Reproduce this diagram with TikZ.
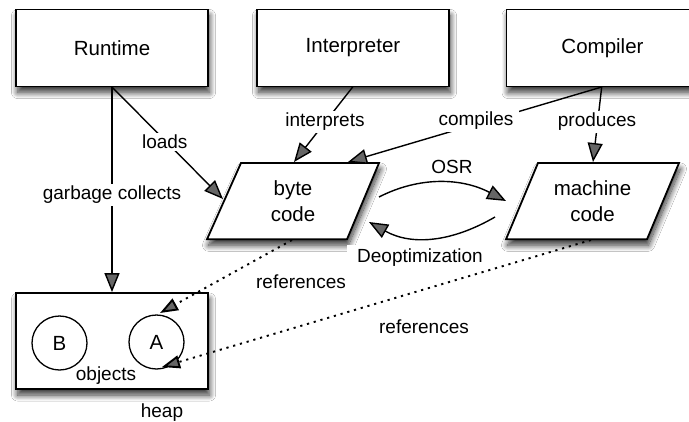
\documentclass[tikz,border=0pt]{standalone}
\usepackage{fontspec}
\setmainfont{Liberation Sans}
\usetikzlibrary{arrows.meta,shadows.blur,shapes.geometric}
\begin{document}
\begin{tikzpicture}[x=1pt,y=-1pt,
  shad/.style={blur shadow={shadow xshift=1.5pt, shadow yshift=-6pt, shadow blur radius=6pt, shadow blur steps=14, shadow opacity=80}},
  box/.style={draw, line width=1.8pt, fill=white, shad, inner sep=0pt,
    font=\fontsize{20.5}{26}\selectfont, align=center},
  ntext/.style={font=\fontsize{20.5}{26}\selectfont, align=center, inner sep=0pt},
  para/.style={draw, line width=1.8pt, fill=white, line join=miter, shad},
  obj/.style={draw, ellipse, line width=1.3pt, fill=white, minimum width=55pt, minimum height=54pt, inner sep=0pt,
    font=\fontsize{20.5}{24}\selectfont},
  lbl/.style={font=\fontsize{19}{22}\selectfont, fill=white, inner sep=2pt},
  plain/.style={font=\fontsize{19}{22}\selectfont, inner sep=2pt},
  conn/.style={line width=1.4pt, -{Triangle[length=19pt,width=15pt]}},
  dotl/.style={line width=1.9pt, dash pattern=on 2.2pt off 4.8pt, -{Triangle[length=18pt,width=13pt]}}
]
\useasboundingbox (0,0) rectangle (689,421);
\clip (0,0) rectangle (689,421);
\fill[white] (0,0) rectangle (689,421);

% top boxes
\node[box, minimum width=192pt, minimum height=77pt] (rt) at (112,48) {Runtime};
\node[box, minimum width=192pt, minimum height=77pt] (ip) at (353,48) {Interpreter};
\node[box, minimum width=192pt, minimum height=77pt] (cp) at (602.5,48) {Compiler};

% parallelograms
\draw[para] (241,163) -- (379,163) -- (347,239.3) -- (207,239.3) -- cycle;
\node[ntext] (bc) at (293,201) {byte\\code};
\draw[para] (538,163) -- (679,163) -- (647,239.3) -- (506,239.3) -- cycle;
\node[ntext] (mc) at (592.5,201) {machine\\code};

% heap
\node[box, minimum width=192pt, minimum height=96pt] (heap) at (112,341) {};
\node[obj] (B) at (59.5,343) {B};
\node[obj] (A) at (156.5,342) {A};
\node[plain] (objl) at (106,376) {objects};
\node[plain] (heapl) at (162,413) {heap};

% connection points on the parallelograms
\coordinate (rtS) at (112,87);
\coordinate (ipS) at (352.7,87);
\coordinate (cpS) at (601.7,87);
\coordinate (bcL) at (223,199);
\coordinate (bcT1) at (294,162);
\coordinate (bcT2) at (348,162);
\coordinate (bcR1) at (379,197);
\coordinate (bcR2) at (369,222);
\coordinate (bcB) at (292,240);
\coordinate (mcT) at (593,162);
\coordinate (mcL1) at (506,201);
\coordinate (mcL2) at (495,217);
\coordinate (mcB) at (591,240);
\coordinate (Atop) at (160,313);
\coordinate (Abot) at (162,367);

% connectors
\draw[conn] (rtS) -- (heap.north);
\node[lbl] (gcl) at (112,195) {garbage collects};
\draw[conn] (rtS) -- (bcL);
\node[lbl] (ldl) at (164.8,141.7) {loads};
\draw[conn] (ipS) -- (bcT1);
\node[lbl, inner xsep=8pt] (ipl) at (325,122) {interprets};
\draw[conn] (cpS) -- (bcT2);
\node[lbl, inner xsep=6pt] (cpl) at (476,121) {compiles};
\draw[conn] (cpS) -- (mcT);
\node[lbl, inner xsep=6pt] (prl) at (597,122) {produces};

\draw[conn] (bcR1) .. controls (420,176) and (462,178) .. (mcL1);
\node[plain] (osrl) at (452,167) {OSR};
\draw[conn] (mcL2) .. controls (452,242) and (412,246) .. (bcR2);
\node[lbl, inner xsep=10pt, inner ysep=4pt] (dol) at (420,258) {Deoptimization};

\draw[dotl] (bcB) -- (Atop);
\node[plain] (r1l) at (301,282) {references};
\draw[dotl] (mcB) -- (Abot);
\node[plain] (r2l) at (424,327) {references};
\end{tikzpicture}
\end{document}
